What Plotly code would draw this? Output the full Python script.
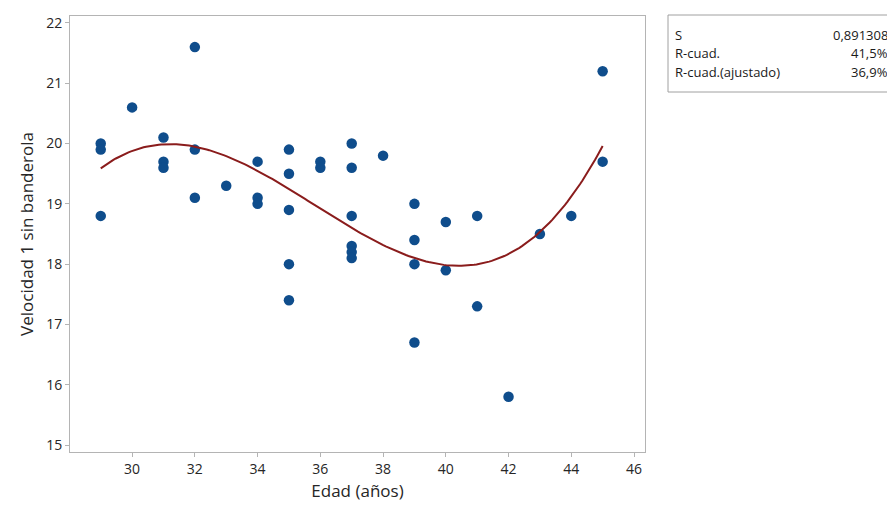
import numpy as np
import plotly.graph_objects as go

# Data: Edad (años) vs Velocidad 1 sin banderola
edad = [29, 29, 29,
        30,
        31, 31, 31,
        32, 32, 32,
        33,
        34, 34, 34,
        35, 35, 35, 35, 35,
        36, 36,
        37, 37, 37, 37, 37, 37,
        38,
        39, 39, 39, 39,
        40, 40,
        41, 41,
        42,
        43,
        44,
        45, 45]
velocidad = [20.0, 19.9, 18.8,
             20.6,
             20.1, 19.7, 19.6,
             21.6, 19.9, 19.1,
             19.3,
             19.7, 19.1, 19.0,
             19.9, 19.5, 18.9, 18.0, 17.4,
             19.7, 19.6,
             20.0, 19.6, 18.8, 18.3, 18.2, 18.1,
             19.8,
             19.0, 18.4, 18.0, 16.7,
             18.7, 17.9,
             18.8, 17.3,
             15.8,
             18.5,
             18.8,
             21.2, 19.7]

stat_labels = ["S", "R-cuad.", "R-cuad.(ajustado)"]
stat_values = ["0,891308", "41,5%", "36,9%"]

x_ticks = [30, 32, 34, 36, 38, 40, 42, 44, 46]
y_ticks = [15, 16, 17, 18, 19, 20, 21, 22]

# Cubic regression fit
coef = np.polyfit(edad, velocidad, 3)
xf = np.linspace(min(edad), max(edad), 200)
yf = np.polyval(coef, xf)

FONT = "Open Sans"
TXT = "#262626"
fig = go.Figure()
fig.add_trace(go.Scatter(x=edad, y=velocidad, mode="markers",
                         marker=dict(size=10.5, color="#0f4d8c"),
                         showlegend=False))
fig.add_trace(go.Scatter(x=xf, y=yf, mode="lines",
                         line=dict(color="#8a1c1c", width=2),
                         showlegend=False))

fig.update_layout(
    width=887, height=510,
    margin=dict(l=70, r=242, t=16, b=58),
    paper_bgcolor="white", plot_bgcolor="white",
    font=dict(family=FONT, color=TXT),
    xaxis=dict(range=[28.02, 46.35], tickvals=x_ticks, showgrid=False, zeroline=False,
               showline=True, linecolor="#b4b4b4", linewidth=1, mirror=True,
               ticks="outside", ticklen=4, tickcolor="#b4b4b4",
               tickfont=dict(size=14, family=FONT, color=TXT),
               title=dict(text="Edad (años)", font=dict(size=17, family=FONT, color=TXT), standoff=8)),
    yaxis=dict(range=[14.884, 22.116], tickvals=y_ticks, showgrid=False, zeroline=False,
               showline=True, linecolor="#b4b4b4", linewidth=1, mirror=True,
               ticks="outside", ticklen=4, tickcolor="#b4b4b4",
               tickfont=dict(size=14, family=FONT, color=TXT),
               title=dict(text="Velocidad 1 sin banderola", font=dict(size=17, family=FONT, color=TXT), standoff=8)),
)

# Stats box
pw = 887 - 70 - 242
ph = 510 - 16 - 58
def px(x):
    return (x - 70) / pw
def py(y):
    return 1 - (y - 16) / ph

fig.add_shape(type="rect", xref="paper", yref="paper",
              x0=px(668), x1=px(900), y0=py(92), y1=py(15),
              line=dict(color="#a0a0a0", width=1), fillcolor="white")
row_y = [35, 53, 72]
for lab, val, ry in zip(stat_labels, stat_values, row_y):
    fig.add_annotation(xref="paper", yref="paper", x=px(673), y=py(ry), text=lab,
                       showarrow=False, xanchor="left", yanchor="middle",
                       font=dict(size=13, family=FONT, color="#1a1a1a"))
    fig.add_annotation(xref="paper", yref="paper", x=px(890), y=py(ry), text=val,
                       showarrow=False, xanchor="right", yanchor="middle",
                       font=dict(size=13, family=FONT, color="#1a1a1a"))

fig.write_html("out.html")
